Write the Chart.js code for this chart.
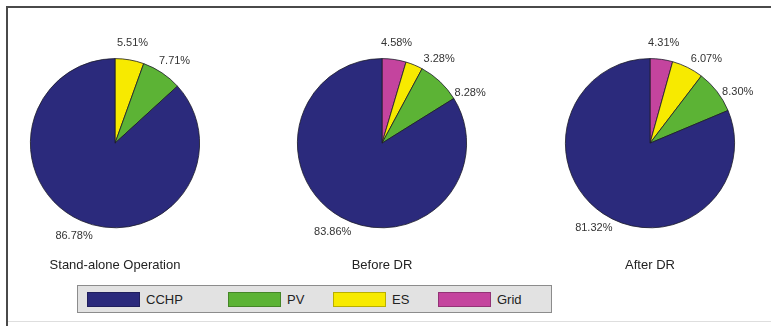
<!DOCTYPE html>
<html>
<head>
<meta charset="utf-8">
<script src="https://cdn.jsdelivr.net/npm/chart.js@4"></script>
<style>
    body {
        margin: 0;
        width: 771px;
        height: 326px;
        background: #fff;
        position: relative;
        overflow: hidden;
        font-family: "Liberation Sans", Arial, sans-serif;
    }
    .frame {
        position: absolute;
        left: 6px;
        top: 6px;
        width: 800px;
        height: 330px;
        border-left: 2px solid #4a4a4a;
        border-top: 2px solid #4a4a4a;
    }
    .baseline {
        position: absolute;
        left: 8px;
        top: 321px;
        width: 763px;
        height: 1px;
        background: #dedede;
    }
    .pie {
        position: absolute;
        top: 0;
    }
    #legend {
        position: absolute;
        left: 77px;
        top: 285px;
        width: 464px;
        height: 26px;
        background: #e2e2e2;
        border: 1px solid #8c8c8c;
        display: flex;
        align-items: center;
        padding-left: 9px;
        box-sizing: content-box;
    }
    .item {
        display: flex;
        align-items: center;
        width: 105px;
        font-size: 13px;
        color: #222;
    }
    .item:first-child { width: 141px; }
    .swatch {
        width: 53px;
        height: 15px;
        margin-right: 6px;
        box-sizing: border-box;
        border: 1px solid rgba(0,0,0,0.25);
    }
</style>
</head>
<body>
<div class="frame"></div>
<div class="baseline"></div>
<canvas class="pie" id="pie0" width="230" height="290" style="left:0px"></canvas>
<canvas class="pie" id="pie1" width="230" height="290" style="left:267px"></canvas>
<canvas class="pie" id="pie2" width="230" height="290" style="left:535px"></canvas>
<div id="legend"></div>

<script>
// legend order
const categories = ['CCHP', 'PV', 'ES', 'Grid'];
const colors = ['#2b2a7c', '#5cb335', '#f7ea00', '#c4449e'];

// share of each source (%), same order as categories
const standAlone = [86.78, 7.71, 5.51, 0];
const beforeDR = [83.86, 8.28, 3.28, 4.58];
const afterDR = [81.32, 8.30, 6.07, 4.31];

const scenarios = ['Stand-alone Operation', 'Before DR', 'After DR'];
const scenarioValues = [standAlone, beforeDR, afterDR];

const FONT = '"Liberation Sans", Arial, sans-serif';
const MIN_GAP = 26 * Math.PI / 180;

// percent labels outside each slice, 1.2 x radius at the mid angle,
// pushed apart a little when slices are thin
const outsideLabels = {
    id: 'outsideLabels',
    afterDatasetsDraw(chart) {
        const ctx = chart.ctx;
        const data = chart.data.datasets[0].data;
        ctx.save();
        ctx.font = '11px ' + FONT;
        ctx.fillStyle = '#333';
        ctx.textAlign = 'center';
        ctx.textBaseline = 'middle';
        let prev = -Infinity;
        chart.getDatasetMeta(0).data.forEach((arc, i) => {
            const p = arc.getProps(['x', 'y', 'startAngle', 'endAngle', 'outerRadius'], true);
            let mid = (p.startAngle + p.endAngle) / 2;
            if (mid < prev + MIN_GAP) mid = prev + MIN_GAP;
            prev = mid;
            const r = p.outerRadius * 1.2;
            ctx.fillText(data[i].toFixed(2) + '%', p.x + Math.cos(mid) * r, p.y + Math.sin(mid) * r);
        });
        ctx.restore();
    }
};

function makePie(index) {
    const values = scenarioValues[index];
    // drawn clockwise from 12 o'clock: Grid, ES, PV, CCHP
    const order = [3, 2, 1, 0].filter(i => values[i] > 0);
    const ctx = document.getElementById('pie' + index).getContext('2d');
    new Chart(ctx, {
        type: 'pie',
        data: {
            labels: order.map(i => categories[i]),
            datasets: [{
                data: order.map(i => values[i]),
                backgroundColor: order.map(i => colors[i]),
                borderColor: '#1c1c2a',
                borderWidth: 0.8
            }]
        },
        options: {
            responsive: false,
            animation: false,
            layout: {
                padding: { top: 58, bottom: 17, left: 30, right: 30 }
            },
            plugins: {
                legend: { display: false },
                tooltip: { enabled: false },
                title: {
                    display: true,
                    position: 'bottom',
                    text: scenarios[index],
                    color: '#222',
                    font: { family: FONT, size: 13, weight: 'normal' },
                    padding: { top: 29, bottom: 0 }
                }
            }
        },
        plugins: [outsideLabels]
    });
}

scenarios.forEach((_, i) => makePie(i));

const legend = document.getElementById('legend');
categories.forEach((name, i) => {
    const item = document.createElement('div');
    item.className = 'item';
    item.innerHTML = `<span class="swatch" style="background:${colors[i]}"></span><span>${name}</span>`;
    legend.appendChild(item);
});
</script>
</body>
</html>
